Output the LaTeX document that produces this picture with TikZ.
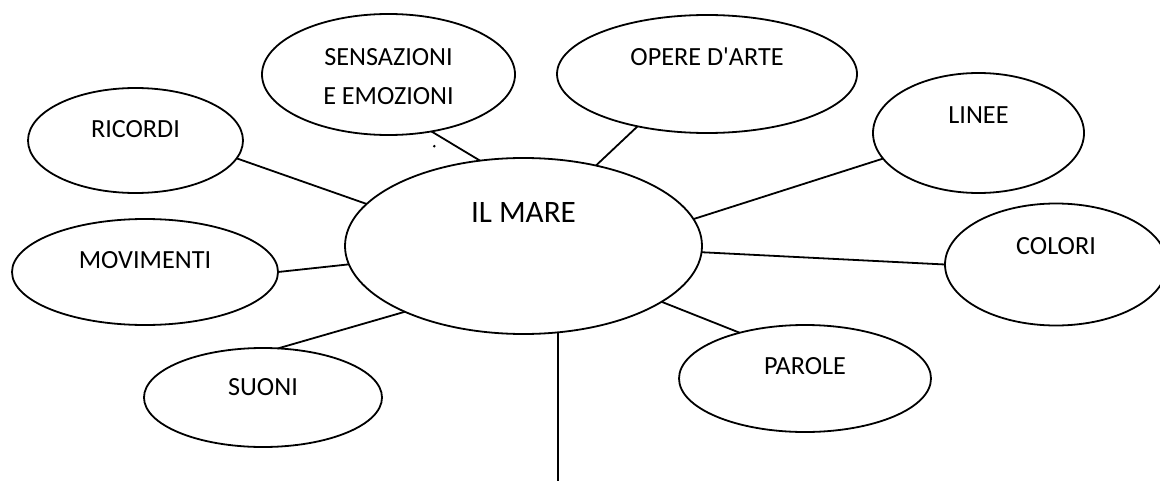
\documentclass[tikz,border=0pt]{standalone}
\usepackage{fontspec}
\setmainfont{Carlito}
\usetikzlibrary{shapes.geometric}
\begin{document}
\begin{tikzpicture}[x=0.5pt,y=-0.5pt,
  bub/.style 2 args={ellipse, draw, line width=0.9pt, inner sep=0pt, outer sep=0pt,
    minimum width=#1, minimum height=#2},
  lab/.style={inner sep=0pt, align=center, font=\fontsize{13.1pt}{19.5pt}\selectfont},
  biglab/.style={inner sep=0pt, font=\fontsize{15.6pt}{18pt}\selectfont},
  conn/.style={line width=0.9pt}]
\useasboundingbox (0,0) rectangle (1160,481);

\node[bub={178.5pt}{88pt}, label={[biglab,yshift=17pt]center:IL MARE}] (mare) at (523.5,246) {};
\node[bub={107.5pt}{52.5pt}, label={[lab,yshift=5.75pt]center:RICORDI}] (ric) at (135.5,140.5) {};
\node[bub={126.5pt}{60.5pt}, label={[lab,yshift=-1pt]center:SENSAZIONI\\E EMOZIONI}] (sen) at (388.5,74.5) {};
\node[bub={150pt}{59pt}, label={[lab,yshift=8.5pt]center:OPERE D\textquotesingle ARTE}] (ope) at (707,74) {};
\node[bub={105.5pt}{60pt}, label={[lab,yshift=9pt]center:LINEE}] (lin) at (978.5,133) {};
\node[bub={111pt}{61pt}, label={[lab,yshift=9.25pt]center:COLORI}] (col) at (1056,264.5) {};
\node[bub={126pt}{53.5pt}, label={[lab,yshift=6.25pt]center:PAROLE}] (par) at (805,378.5) {};
\node[bub={133pt}{53pt}, label={[lab,yshift=6pt]center:MOVIMENTI}] (mov) at (145,272) {};
\node[bub={119pt}{49.5pt}, label={[lab,yshift=5pt]center:SUONI}] (suo) at (263,397.5) {};
\coordinate (bot) at (558,481);

\draw[conn] (ric.-10.7) -- (mare.165.4);
\draw[conn] (sen.-53.1) -- (mare.117.3);
\draw[conn] (ope.-143) -- (mare.48.7);
\draw[conn] (lin.-165.3) -- (mare.9.3);
\draw[conn] (mare.-2.9) -- (col.180);
\draw[conn] (mare.-22) -- (par.145.8);
\draw[conn] (mare.-151.9) -- (suo.73.1);
\draw[conn] (mov.0) -- (mare.186.4);
\draw[conn] (mare.-68.4) -- (mare.-68.4 |- bot);
\draw[line width=0.9pt] (433.5,147) -- (435,145.5);
\end{tikzpicture}
\end{document}
